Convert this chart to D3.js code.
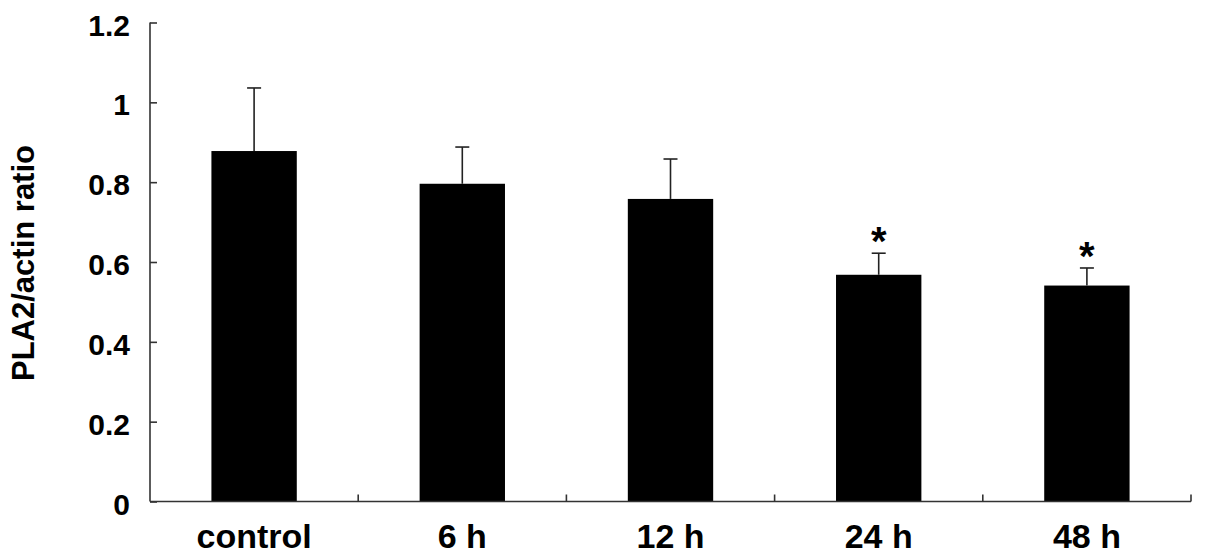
<!DOCTYPE html>
<html>
<head>
<meta charset="utf-8">
<script src="https://cdn.jsdelivr.net/npm/d3@7"></script>
<style>
  body { margin: 0; background: #fff; }
  text { font-family: "Liberation Sans", Arial, sans-serif; font-weight: bold; fill: #000; }
</style>
</head>
<body>
<div id="chart"></div>
<script>
const categories = ["control", "6 h", "12 h", "24 h", "48 h"];
const ratio = [0.878, 0.796, 0.758, 0.568, 0.541];
const sem = [0.158, 0.092, 0.100, 0.054, 0.044];
const marked = [false, false, false, true, true];
const yTicks = [0, 0.2, 0.4, 0.6, 0.8, 1, 1.2];

let width = 1205,
    height = 560;

const svg = d3.select("#chart")
    .append("svg")
    .attr("width", width)
    .attr("height", height);

const x = d3.scaleBand()
    .domain(categories)
    .range([150, 1191])
    .paddingInner(0.59)
    .paddingOuter(0.295);

const y = d3.scaleLinear()
    .domain([0, 1.2])
    .range([501.5, 22.5]);

// bars
svg.selectAll(".bar")
    .data(categories)
    .enter().append("rect")
    .attr("class", "bar")
    .attr("x", function (d) { return x(d); })
    .attr("width", x.bandwidth())
    .attr("y", function (d, i) { return y(ratio[i]); })
    .attr("height", function (d, i) { return y(0) - y(ratio[i]); })
    .style("fill", "#000");

// error bars (upper only)
const err = svg.selectAll(".err")
    .data(categories)
    .enter().append("g")
    .attr("class", "err")
    .style("stroke", "#222")
    .style("stroke-width", 1.6);

err.append("line")
    .attr("x1", function (d) { return x(d) + x.bandwidth() / 2; })
    .attr("x2", function (d) { return x(d) + x.bandwidth() / 2; })
    .attr("y1", function (d, i) { return y(ratio[i]); })
    .attr("y2", function (d, i) { return y(ratio[i] + sem[i]); });

err.append("line")
    .attr("x1", function (d) { return x(d) + x.bandwidth() / 2 - 7; })
    .attr("x2", function (d) { return x(d) + x.bandwidth() / 2 + 7; })
    .attr("y1", function (d, i) { return y(ratio[i] + sem[i]); })
    .attr("y2", function (d, i) { return y(ratio[i] + sem[i]); });

// significance stars
svg.selectAll(".star")
    .data(categories.filter(function (d, i) { return marked[i]; }))
    .enter().append("text")
    .attr("class", "star")
    .attr("x", function (d) { return x(d) + x.bandwidth() / 2; })
    .attr("y", function (d) {
      const i = categories.indexOf(d);
      return y(ratio[i] + sem[i]) + 2;
    })
    .attr("text-anchor", "middle")
    .style("font-size", "40px")
    .text("*");

// y axis
const yAxis = svg.append("g")
    .attr("transform", "translate(150,0)")
    .call(d3.axisRight(y).tickValues(yTicks).tickSize(7).tickFormat(d3.format("")));
yAxis.select(".domain").attr("d", "M0," + y(1.2) + "V" + y(0)).style("stroke", "#333").style("stroke-width", 1.6);
yAxis.selectAll(".tick line").style("stroke", "#333").style("stroke-width", 1.6);
yAxis.selectAll(".tick text")
    .attr("x", -20)
    .attr("dy", "0.42em")
    .attr("text-anchor", "end")
    .style("font-size", "30px");

// x axis
const xAxis = svg.append("g")
    .attr("transform", "translate(0," + y(0) + ")")
    .call(d3.axisBottom(x).tickSize(0).tickPadding(22));
xAxis.select(".domain").attr("d", "M150,0H1191").style("stroke", "#333").style("stroke-width", 1.6);
xAxis.selectAll(".tick text").style("font-size", "34px");

// category boundary ticks
svg.selectAll(".sep")
    .data(categories)
    .enter().append("line")
    .attr("class", "sep")
    .attr("x1", function (d) { return x(d) + x.bandwidth() / 2 + x.step() / 2; })
    .attr("x2", function (d) { return x(d) + x.bandwidth() / 2 + x.step() / 2; })
    .attr("y1", y(0))
    .attr("y2", y(0) - 7)
    .style("stroke", "#333")
    .style("stroke-width", 1.6);

// y label
svg.append("text")
    .attr("transform", "translate(34,263) rotate(-90)")
    .attr("text-anchor", "middle")
    .style("font-size", "31px")
    .text("PLA2/actin ratio");
</script>
</body>
</html>
